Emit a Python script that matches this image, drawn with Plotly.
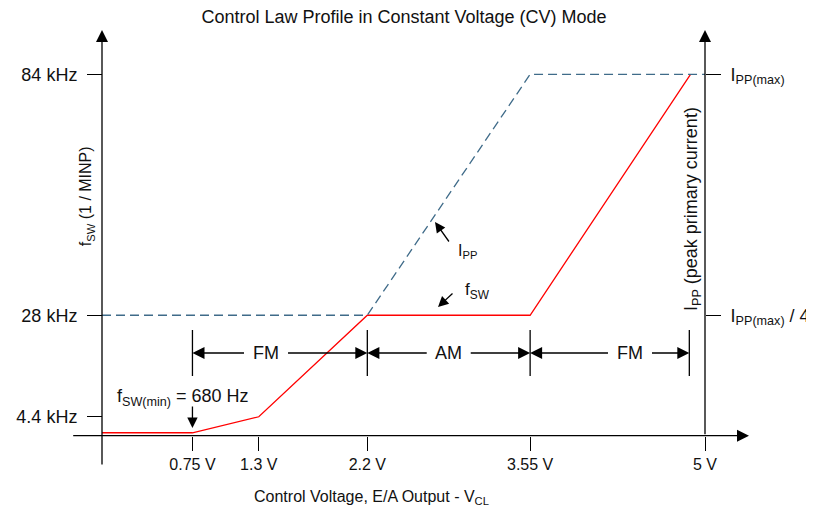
import plotly.graph_objects as go

# ---------------- data ----------------
v_fsw = [0.0, 0.75, 1.3, 2.2, 3.55, 4.88]          # control voltage (V)
f_sw_khz = [0.68, 0.68, 4.4, 28.0, 28.0, 84.0]     # switching frequency (kHz)
v_ipp = [0.0, 2.2, 3.55, 5.0]                       # control voltage (V)
ipp_frac = [0.25, 0.25, 1.0, 1.0]                   # I_PP as fraction of I_PP(max)

x_tick_vals = [0.75, 1.3, 2.2, 3.55, 5.0]
x_tick_text = ["0.75 V", "1.3 V", "2.2 V", "3.55 V", "5 V"]
y_tick_vals = [4.4, 28, 84]
y_tick_text = ["4.4 kHz", "28 kHz", "84 kHz"]
y2_tick_vals = [0.25, 1.0]
y2_tick_text = ["I<sub>PP(max)</sub> / 4", "I<sub>PP(max)</sub>"]

mode_bounds = [0.75, 2.2, 3.55, 4.87]
mode_labels = ["FM", "AM", "FM"]
mode_label_x = [1.36, 2.875, 4.378]

# ---------------- geometry (page has an 8px body margin) ----------------
PAGE_W, PAGE_H, OFF = 814, 510, 8
W, H = PAGE_W - OFF, PAGE_H - OFF
X0PX, KX = 102.0, 120.6          # page pixel of 0 V, px per V
Y0PX, KY = 435.7, 4.302          # page pixel of 0 kHz, px per kHz
xr = [-(X0PX - OFF) / KX, (PAGE_W - X0PX) / KX]
yr = [-(PAGE_H - Y0PX) / KY, (Y0PX - OFF) / KY]
p28 = Y0PX - 28 * KY
p84 = Y0PX - 84 * KY
K2 = (p28 - p84) / 0.75
Y20PX = p84 + K2
y2r = [-(PAGE_H - Y20PX) / K2, (Y20PX - OFF) / K2]


def dx(px):
    return (px - X0PX) / KX


def dy(py):
    return (Y0PX - py) / KY


def paper_x(px):
    return (px - OFF) / W


def paper_y(py):
    return 1 - (py - OFF) / H


FONT = "Liberation Sans, Arial, sans-serif"
TXT = "#111111"
AX = "#000000"

fig = go.Figure()
fig.add_trace(go.Scatter(x=v_ipp, y=ipp_frac, mode="lines", yaxis="y2",
                         line=dict(color="#3f6b89", width=1.3, dash="9px,5px"),
                         hoverinfo="skip", showlegend=False))
fig.add_trace(go.Scatter(x=v_fsw, y=f_sw_khz, mode="lines",
                         line=dict(color="#ff0000", width=1.3),
                         hoverinfo="skip", showlegend=False))

ann = []


def arrow(x, y, ax, ay, size=1.85):
    ann.append(dict(x=x, y=y, ax=ax, ay=ay, xref="x", yref="y", axref="x", ayref="y",
                    text="", showarrow=True, arrowhead=2, arrowsize=size,
                    arrowwidth=1.3, arrowcolor=AX, standoff=0, startstandoff=0))


# axes with arrowheads
arrow(dx(749), 0, dx(71.7), 0)
arrow(0, dy(30), 0, dy(466))
arrow(5.0, dy(30), 5.0, 0)

# mode brackets
yb0, yb1, ya = dy(376), dy(330), dy(353)
shapes = []
for b in mode_bounds:
    shapes.append(dict(type="line", xref="x", yref="y", x0=b, x1=b, y0=yb0, y1=yb1,
                       line=dict(color=AX, width=1.3)))
for i, lab in enumerate(mode_labels):
    cx = mode_label_x[i]
    off = 20.5 / KX
    arrow(mode_bounds[i], ya, cx - off, ya)
    arrow(mode_bounds[i + 1], ya, cx + off, ya)
    ann.append(dict(x=cx, y=ya, xref="x", yref="y", text=lab, showarrow=False,
                    font=dict(size=18, color=TXT, family=FONT), xanchor="center", yanchor="middle"))

# f_SW(min) marker
arrow(0.75, dy(428), 0.75, dy(405), size=1.6)
ann.append(dict(x=dx(182.5), y=dy(397), xref="x", yref="y",
                text="f<sub>SW(min)</sub> = 680 Hz", showarrow=False,
                font=dict(size=18, color=TXT, family=FONT), xanchor="center", yanchor="middle"))

# I_PP pointer
arrow(dx(435), dy(222), dx(450), dy(243), size=1.6)
ann.append(dict(x=dx(456), y=dy(251), xref="x", yref="y",
                text="I<sub>PP</sub>", showarrow=False,
                font=dict(size=16, color=TXT, family=FONT), xanchor="left", yanchor="middle"))
# f_SW pointer
arrow(dx(438), dy(307), dx(454), dy(292), size=1.6)
ann.append(dict(x=dx(463), y=dy(291), xref="x", yref="y",
                text="f<sub>SW</sub>", showarrow=False,
                font=dict(size=17, color=TXT, family=FONT), xanchor="left", yanchor="middle"))

# axis titles
ann.append(dict(x=paper_x(371), y=paper_y(497), xref="paper", yref="paper",
                text="Control Voltage, E/A Output - V<sub>CL</sub>", showarrow=False,
                font=dict(size=16, color=TXT, family=FONT), xanchor="center", yanchor="middle"))
ann.append(dict(x=paper_x(86.7), y=paper_y(196.5), xref="paper", yref="paper",
                text="f<sub>SW</sub> (1 / MINP)", showarrow=False, textangle=-90,
                font=dict(size=16, color=TXT, family=FONT), xanchor="center", yanchor="middle"))
ann.append(dict(x=paper_x(692), y=paper_y(209), xref="paper", yref="paper",
                text="I<sub>PP</sub> (peak primary current)", showarrow=False, textangle=-90,
                font=dict(size=18, color=TXT, family=FONT), xanchor="center", yanchor="middle"))

axis_common = dict(showgrid=False, zeroline=False, showline=False, ticks="outside",
                   tickwidth=1.3, tickcolor=AX, automargin=False, fixedrange=True)

fig.update_layout(
    width=W, height=H,
    margin=dict(l=0, r=0, t=0, b=0),
    paper_bgcolor="white", plot_bgcolor="white",
    font=dict(family=FONT, color=TXT),
    title=dict(text="Control Law Profile in Constant Voltage (CV) Mode",
               x=paper_x(404), y=paper_y(17), xanchor="center", yanchor="middle",
               font=dict(size=18, color=TXT, family=FONT)),
    xaxis=dict(range=xr, anchor="free", position=(PAGE_H - Y0PX) / H, ticklen=14,
               tickvals=x_tick_vals, ticktext=x_tick_text,
               tickfont=dict(size=16, color=TXT, family=FONT), **axis_common),
    yaxis=dict(range=yr, anchor="free", position=paper_x(X0PX), ticklen=15,
               tickvals=y_tick_vals, ticktext=y_tick_text, ticklabelstandoff=6,
               tickfont=dict(size=18, color=TXT, family=FONT), **axis_common),
    yaxis2=dict(range=y2r, anchor="free", position=paper_x(705), overlaying="y", side="right",
                ticklen=15, tickvals=y2_tick_vals, ticktext=y2_tick_text, ticklabelstandoff=6,
                tickfont=dict(size=18, color=TXT, family=FONT), **axis_common),
    shapes=shapes,
    annotations=ann,
    showlegend=False,
)

fig.write_html("out.html")
